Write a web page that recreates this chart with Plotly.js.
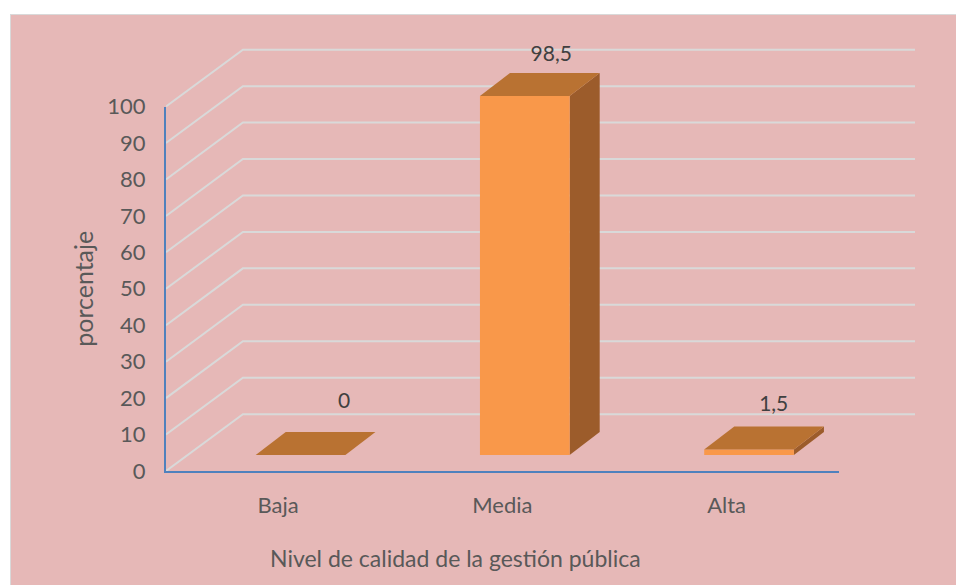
<!DOCTYPE html>
<html>
<head>
<meta charset="utf-8">
<script src="https://cdn.plot.ly/plotly-3.0.1.min.js"></script>
<style>
  html, body { margin: 0; padding: 0; background: #fff; overflow: hidden; }
  #panel { position: absolute; left: 10px; top: 14px; right: 0; bottom: 0; background: #E6B8B7; border-left: 1px solid #d9d9d9; border-top: 1px solid #d9d9d9; }
  #chart { position: absolute; left: 0; top: 0; width: 956px; height: 585px; }
</style>
</head>
<body>
<div id="panel"></div>
<div id="chart"></div>
<script>
// Chart data
var categories = ["Baja", "Media", "Alta"];
var values = [0, 98.5, 1.5];
var yTicks = [0, 10, 20, 30, 40, 50, 60, 70, 80, 90, 100];

// Fake 3D look, in axis units
var wallDx = 0.343, wallDy = 15.6;
var barWidth = 0.4, barShift = 0.1, barBase = 4.4;
var barDx = 0.134, barDy = 6.3;

// Hand placed data labels, same as in the original chart
var labelDx = [0.294, 0.218, 0.21];
var labelDy = [18.7, 15.4, 16.4];

// The walls stick out past the axes, and lines get clipped to their subplot,
// so they sit on a hidden bigger subplot with the same scale as the visible one
var wallEnd = 3.84, wallTop = 121;
var xShare = 3 / (wallEnd - 0.5);
var yShare = 100 / wallTop;

var textColor = "#595959";
var font = "Lato, sans-serif";

function face(xs, ys, color) {
    return {
        x: xs.concat(xs[0]), y: ys.concat(ys[0]),
        type: "scatter", mode: "lines", fill: "toself", fillcolor: color,
        line: { width: 0, color: color },
        hoverinfo: "skip", showlegend: false
    };
}

var data = [];

// Back wall gridlines
yTicks.forEach(function (v) {
    data.push({
        x: [0.5, 0.5 + wallDx, wallEnd],
        y: [v, v + wallDy, v + wallDy],
        type: "scatter", mode: "lines",
        line: { color: "#D9D9D9", width: 2 },
        hoverinfo: "skip", showlegend: false
    });
});

// Bars: side, front, top
values.forEach(function (v, i) {
    var x0 = i + 1 + barShift - barWidth / 2;
    var x1 = x0 + barWidth;
    var y0 = barBase;
    var y1 = barBase + v;
    if (v > 0) {
        data.push(face([x1, x1 + barDx, x1 + barDx, x1], [y0, y0 + barDy, y1 + barDy, y1], "#9C5C2B"));
        data.push(face([x0, x1, x1, x0], [y0, y0, y1, y1], "#F9984A"));
    }
    data.push(face([x0, x1, x1 + barDx, x0 + barDx], [y1, y1, y1 + barDy, y1 + barDy], "#B97232"));
});

// Data labels
data.push({
    x: values.map(function (v, i) { return i + 1 + labelDx[i]; }),
    y: values.map(function (v, i) { return v + labelDy[i]; }),
    text: values.map(function (v) { return String(v).replace(".", ","); }),
    type: "scatter", mode: "text", textposition: "middle center",
    textfont: { family: font, size: 21, color: "#404040" },
    hoverinfo: "skip", showlegend: false
});

// Invisible points so the visible axes get drawn
data.push({
    x: [1, 2, 3],
    y: values,
    xaxis: "x2", yaxis: "y2",
    type: "scatter", mode: "markers",
    marker: { opacity: 0 },
    showlegend: false
});

var layout = {
    width: 956,
    height: 585,
    margin: { l: 166, r: 41, t: 30, b: 114, pad: 0 },
    paper_bgcolor: "rgba(0,0,0,0)",
    plot_bgcolor: "rgba(0,0,0,0)",
    showlegend: false,
    font: { family: font, color: textColor, size: 18 },
    xaxis: { range: [0.5, wallEnd], domain: [0, 1], visible: false, fixedrange: true },
    yaxis: { range: [0, wallTop], domain: [0, 1], visible: false, fixedrange: true },
    xaxis2: {
        range: [0.5, 3.5], domain: [0, xShare], anchor: "y2",
        tickmode: "array", tickvals: [1, 2, 3], ticktext: categories,
        showgrid: false, zeroline: false,
        showline: true, linecolor: "#4F81BD", linewidth: 2,
        ticks: "outside", ticklen: 14, tickcolor: "rgba(0,0,0,0)",
        tickfont: { family: font, size: 22, color: textColor }
    },
    yaxis2: {
        range: [0, 100], domain: [0, yShare], anchor: "x2",
        tickmode: "array", tickvals: yTicks,
        showgrid: false, zeroline: false,
        showline: true, linecolor: "#4F81BD", linewidth: 2,
        ticks: "outside", ticklen: 14, tickcolor: "rgba(0,0,0,0)",
        tickfont: { family: font, size: 22, color: textColor },
        title: { text: "porcentaje", font: { family: font, size: 25, color: textColor }, standoff: 7 }
    },
    annotations: [{
        text: "Nivel de calidad de la gestión pública",
        xref: "paper", yref: "paper", x: 0.387, y: -0.197,
        xanchor: "center", yanchor: "middle", showarrow: false,
        font: { family: font, size: 23, color: textColor }
    }]
};

Plotly.newPlot("chart", data, layout, { displayModeBar: false });
</script>
</body>
</html>
